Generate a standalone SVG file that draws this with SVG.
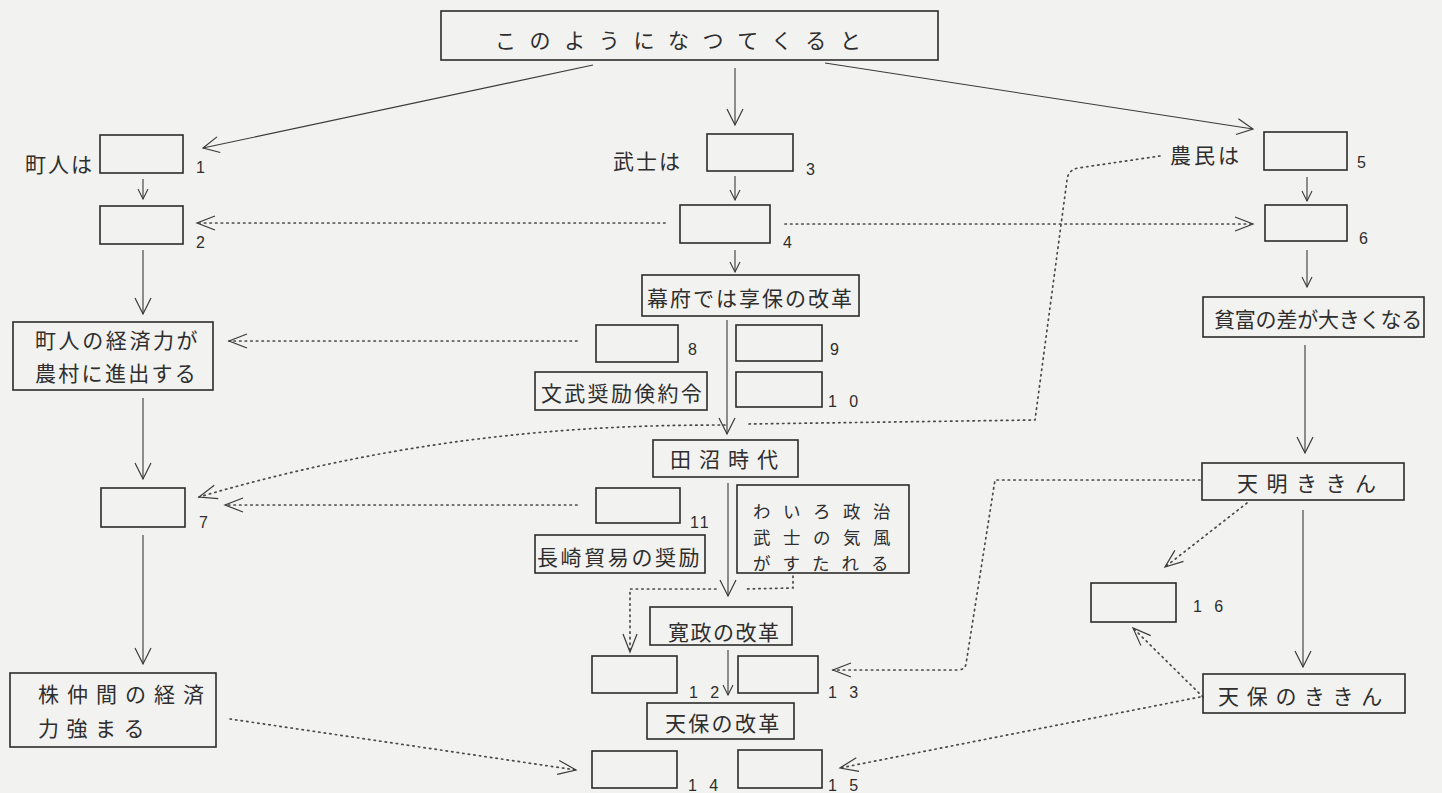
<svg xmlns="http://www.w3.org/2000/svg" width="1442" height="793" viewBox="0 0 1442 793">
<style>
.bg{fill:#f2f2f0}
.bx{fill:none;stroke:#2b2b2b;stroke-width:1.6}
.ln{fill:none;stroke:#3a3a3a;stroke-width:1.1}
.dt{fill:none;stroke:#4a4a4a;stroke-width:1.7;stroke-dasharray:1.4 4.2;stroke-linecap:round}
.jp{font-family:"Noto Sans CJK JP","Noto Sans",sans-serif;font-size:21px;fill:#2e2e2e;dominant-baseline:central}
.jps{font-family:"Noto Sans CJK JP","Noto Sans",sans-serif;font-size:17.5px;fill:#2e2e2e;dominant-baseline:central}
.num{font-family:"Liberation Sans",Arial,sans-serif;font-size:16px;fill:#2e2e2e}
</style>
<defs>
<marker id="ab" markerUnits="userSpaceOnUse" markerWidth="20" markerHeight="20" viewBox="0 0 20 20" refX="18" refY="10" orient="auto">
<path d="M2,2 L18,10 L2,18" fill="none" stroke="#3a3a3a" stroke-width="1.2"/>
</marker>
<marker id="as" markerUnits="userSpaceOnUse" markerWidth="12" markerHeight="12" viewBox="0 0 12 12" refX="11" refY="6" orient="auto">
<path d="M1,1 L11,6 L1,11" fill="none" stroke="#3a3a3a" stroke-width="1.1"/>
</marker>
<marker id="ad" markerUnits="userSpaceOnUse" markerWidth="22" markerHeight="18" viewBox="0 0 22 18" refX="20" refY="9" orient="auto">
<path d="M2,2 L20,9 L2,16" fill="none" stroke="#3a3a3a" stroke-width="1.2"/>
</marker>
</defs>
<rect class="bg" x="0" y="0" width="1442" height="793"/>

<g id="connectors">
<path class="ln" d="M593,65 L203,148" marker-end="url(#ab)"/>
<path class="ln" d="M735,68 L735,125" marker-end="url(#ab)"/>
<path class="ln" d="M825,63 L1253,129" marker-end="url(#ab)"/>
<path class="ln" d="M143,179 L143,199" marker-end="url(#as)"/>
<path class="ln" d="M735,176 L735,200" marker-end="url(#as)"/>
<path class="ln" d="M1307,177 L1307,201" marker-end="url(#as)"/>
<path class="ln" d="M143,250 L143,314" marker-end="url(#ab)"/>
<path class="ln" d="M735,250 L735,272" marker-end="url(#as)"/>
<path class="ln" d="M1307,250 L1307,287" marker-end="url(#as)"/>
<path class="ln" d="M727,320 L727,434" marker-end="url(#ab)"/>
<path class="ln" d="M143,398 L143,479" marker-end="url(#ab)"/>
<path class="ln" d="M1305,345 L1305,453" marker-end="url(#ab)"/>
<path class="ln" d="M728,483 L728,596" marker-end="url(#ab)"/>
<path class="ln" d="M1303,510 L1303,667" marker-end="url(#ab)"/>
<path class="ln" d="M143,535 L143,664" marker-end="url(#ab)"/>
<path class="ln" d="M728,650 L728,695" marker-end="url(#as)"/>

<path class="dt" d="M665,223 L197,223" marker-end="url(#ad)"/>
<path class="dt" d="M785,224 L1253,224" marker-end="url(#ad)"/>
<path class="dt" d="M577,341 L229,341" marker-end="url(#ad)"/>
<path class="dt" d="M1160,156 L1078,168 Q1068,170 1067,180 L1035,420 L748,424"/>
<path class="dt" d="M725,425 C600,425 420,432 199,497" marker-end="url(#ad)"/>
<path class="dt" d="M577,505 L225,505" marker-end="url(#ad)"/>
<path class="dt" d="M793,576 L793,588 L745,589"/>
<path class="dt" d="M716,589 L630,589 L630,652" marker-end="url(#ad)"/>
<path class="dt" d="M1200,480 L995,480 L966,664 Q965,670 957,670 L833,670" marker-end="url(#ad)"/>
<path class="dt" d="M1247,503 L1165,567" marker-end="url(#ad)"/>
<path class="dt" d="M1203,697 L1133,628" marker-end="url(#ad)"/>
<path class="dt" d="M1200,697 L840,768" marker-end="url(#ad)"/>
<path class="dt" d="M230,719 L576,770" marker-end="url(#ad)"/>
</g>

<g id="top">
<rect class="bx" x="441" y="11" width="497" height="49"/>
<text class="jp" x="495" y="39" style="letter-spacing:13.6px">このようになつてくると</text>
</g>

<g id="n1">
<text class="jp" x="25" y="163" style="letter-spacing:2px">町人は</text>
<rect class="bx" x="100" y="135" width="83" height="38"/>
<text class="num" x="196" y="173">1</text>
</g>
<g id="n2">
<rect class="bx" x="100" y="206" width="83" height="38"/>
<text class="num" x="196" y="248">2</text>
</g>
<g id="n3">
<text class="jp" x="613" y="160" style="letter-spacing:2px">武士は</text>
<rect class="bx" x="707" y="134" width="86" height="37"/>
<text class="num" x="806" y="175">3</text>
</g>
<g id="n4">
<rect class="bx" x="680" y="205" width="90" height="38"/>
<text class="num" x="783" y="248">4</text>
</g>
<g id="n5">
<text class="jp" x="1170" y="154" style="letter-spacing:3px">農民は</text>
<rect class="bx" x="1264" y="132" width="83" height="38"/>
<text class="num" x="1357" y="168">5</text>
</g>
<g id="n6">
<rect class="bx" x="1265" y="205" width="82" height="36"/>
<text class="num" x="1359" y="244">6</text>
</g>

<g id="chonin">
<rect class="bx" x="13" y="322" width="200" height="68"/>
<text class="jp" x="35" y="339" style="letter-spacing:2.6px">町人の経済力が</text>
<text class="jp" x="35" y="372" style="letter-spacing:2.3px">農村に進出する</text>
</g>
<g id="n7">
<rect class="bx" x="101" y="488" width="84" height="39"/>
<text class="num" x="199" y="528">7</text>
</g>
<g id="kabu">
<rect class="bx" x="10" y="673" width="206" height="74"/>
<text class="jp" x="38" y="693" style="letter-spacing:8px">株仲間の経済</text>
<text class="jp" x="38" y="727" style="letter-spacing:7.5px">力強まる</text>
</g>

<g id="kyoho">
<rect class="bx" x="642" y="275" width="217" height="41"/>
<text class="jp" x="647" y="297" style="letter-spacing:2px">幕府では享保の改革</text>
</g>
<g id="n8">
<rect class="bx" x="596" y="325" width="82" height="37"/>
<text class="num" x="688" y="355">8</text>
</g>
<g id="n9">
<rect class="bx" x="736" y="325" width="86" height="36"/>
<text class="num" x="830" y="355">9</text>
</g>
<g id="bunbu">
<rect class="bx" x="535" y="372" width="172" height="38"/>
<text class="jp" x="541" y="392" style="letter-spacing:2.3px">文武奨励倹約令</text>
</g>
<g id="n10">
<rect class="bx" x="736" y="372" width="86" height="35"/>
<text class="num" x="828" y="407" style="letter-spacing:4px">1 0</text>
</g>
<g id="tanuma">
<rect class="bx" x="653" y="440" width="145" height="37"/>
<text class="jp" x="670" y="458" style="letter-spacing:8px">田沼時代</text>
</g>
<g id="n11">
<rect class="bx" x="596" y="488" width="84" height="35"/>
<text class="num" x="690" y="528" style="letter-spacing:2px">11</text>
</g>
<g id="wairo">
<rect class="bx" x="737" y="485" width="172" height="88"/>
<text class="jps" x="753" y="510" style="letter-spacing:12.5px">わいろ政治</text>
<text class="jps" x="753" y="536" style="letter-spacing:12.5px">武士の気風</text>
<text class="jps" x="753" y="562" style="letter-spacing:12px">がすたれる</text>
</g>
<g id="nagasaki">
<rect class="bx" x="535" y="535" width="170" height="38"/>
<text class="jp" x="537" y="556" style="letter-spacing:2.6px">長崎貿易の奨励</text>
</g>
<g id="kansei">
<rect class="bx" x="650" y="607" width="142" height="38"/>
<text class="jp" x="668" y="631" style="letter-spacing:1.5px">寛政の改革</text>
</g>
<g id="n12">
<rect class="bx" x="592" y="656" width="85" height="37"/>
<text class="num" x="689" y="698" style="letter-spacing:4px">1 2</text>
</g>
<g id="n13">
<rect class="bx" x="738" y="656" width="80" height="37"/>
<text class="num" x="828" y="698" style="letter-spacing:4px">1 3</text>
</g>
<g id="tenpo">
<rect class="bx" x="647" y="703" width="147" height="36"/>
<text class="jp" x="665" y="722" style="letter-spacing:2.3px">天保の改革</text>
</g>
<g id="n14">
<rect class="bx" x="592" y="751" width="85" height="37"/>
<text class="num" x="688" y="791" style="letter-spacing:4px">1 4</text>
</g>
<g id="n15">
<rect class="bx" x="738" y="750" width="84" height="38"/>
<text class="num" x="828" y="791" style="letter-spacing:4px">1 5</text>
</g>

<g id="hinpu">
<rect class="bx" x="1203" y="297" width="221" height="40"/>
<text class="jp" x="1214" y="318" style="letter-spacing:-0.2px">貧富の差が大きくなる</text>
</g>
<g id="tenmei">
<rect class="bx" x="1202" y="463" width="202" height="37"/>
<text class="jp" x="1237" y="482" style="letter-spacing:8.5px">天明ききん</text>
</g>
<g id="n16">
<rect class="bx" x="1091" y="583" width="85" height="39"/>
<text class="num" x="1193" y="612" style="letter-spacing:4px">1 6</text>
</g>
<g id="tenpokikin">
<rect class="bx" x="1203" y="674" width="202" height="39"/>
<text class="jp" x="1218" y="695" style="letter-spacing:7.8px">天保のききん</text>
</g>
</svg>
